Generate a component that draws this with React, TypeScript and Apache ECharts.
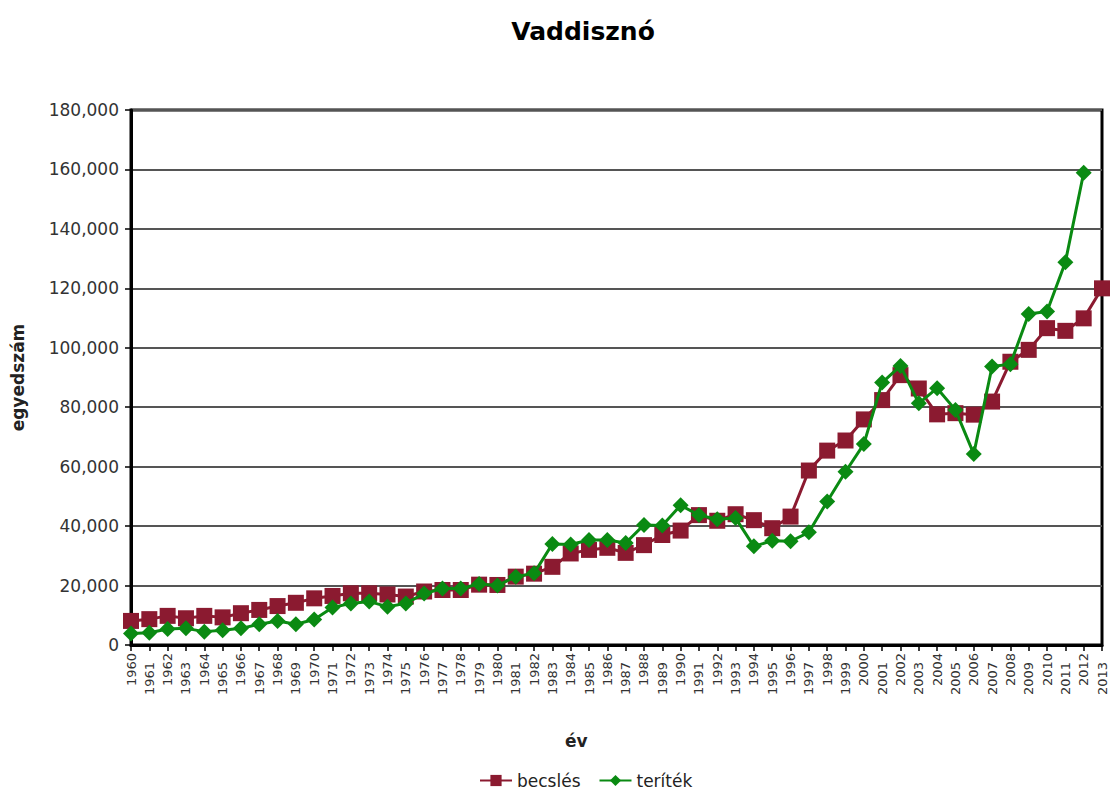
import React, { useEffect, useRef } from "react";
import * as echarts from "echarts";

const years: string[] = [];
for (let y = 1960; y <= 2013; y++) years.push(String(y));

const becsles: number[] = [
  8100, 8700, 9800, 9000, 9800, 9300, 10700, 11800, 13100, 14200,
  15700, 16500, 17400, 17400, 17000, 16300, 18000, 18500, 18500, 20300,
  20200, 23000, 24000, 26300, 30800, 32000, 32700, 31000, 33600, 37000,
  38500, 43700, 41800, 44000, 42000, 39300, 43200, 58700, 65400, 68800,
  75900, 82400, 90800, 86300, 77600, 78000, 77500, 81900, 95300, 99300,
  106600, 105700, 109900, 120000,
];

const teritek: (number | null)[] = [
  3900, 4100, 5400, 5600, 4500, 5000, 5600, 7000, 8100, 7000,
  8600, 12600, 14000, 14600, 12900, 14000, 17300, 19000, 19000, 20500,
  20000, 23000, 24100, 34000, 33800, 35300, 35300, 34300, 40400, 40200,
  47000, 43700, 42300, 42700, 33200, 35100, 34900, 37900, 48300, 58300,
  67600, 88300, 93900, 81300, 86400, 79100, 64300, 93700, 94500, 111400,
  112200, 128800, 158900, null,
];

const FONT = "'DejaVu Sans', Verdana, sans-serif";
const RED = "#8B1A30";
const GREEN = "#0A8A12";

export default function App() {
  const ref = useRef<HTMLDivElement>(null);
  useEffect(() => {
    document.body.style.margin = "0";
    const chart = echarts.init(ref.current!, null, { renderer: "svg" });
    chart.setOption({
      animation: false,
      backgroundColor: "#fff",
      textStyle: { fontFamily: FONT },
      title: {
        text: "Vaddisznó",
        left: 578,
        textAlign: "center",
        top: 14,
        textStyle: { fontFamily: FONT, fontSize: 25, fontWeight: "bold", color: "#000" },
      },
      legend: {
        bottom: 3,
        left: 474,
        itemWidth: 32,
        itemHeight: 14,
        itemGap: 18,
        textStyle: { fontFamily: FONT, fontSize: 17, color: "#222" },
        data: ["becslés", "teríték"],
      },
      graphic: [
        {
          type: "text",
          left: 565,
          top: 732,
          style: { text: "év", font: "bold 17px 'DejaVu Sans', Verdana, sans-serif", fill: "#222" },
        },
      ],
      grid: {
        left: 131,
        right: 8,
        top: 110,
        bottom: 152,
        outerBoundsMode: "none",
        containLabel: false,
        show: true,
        borderColor: "#000",
        borderWidth: 3,
      },
      xAxis: {
        type: "category",
        data: years,
        boundaryGap: false,
        axisLine: { lineStyle: { color: "#000", width: 3 } },
        axisTick: { show: true, length: 6, interval: 0, lineStyle: { color: "#000", width: 1.5 } },
        axisLabel: {
          interval: 0,
          rotate: 90,
          margin: 8,
          fontSize: 13,
          color: "#333",
          fontFamily: FONT,
          formatter: (v: string) => (Number(v) % 2 === 1 ? `{o|${v}}` : `{e|${v}}`),
          rich: {
            o: { padding: [0, 9, 0, 0], fontSize: 13, color: "#333", fontFamily: FONT },
            e: { fontSize: 13, color: "#333", fontFamily: FONT },
          },
        },
        splitLine: { show: false },
      },
      yAxis: {
        type: "value",
        min: 0,
        max: 180000,
        interval: 20000,
        name: "egyedszám",
        nameLocation: "middle",
        nameGap: 105,
        nameTextStyle: { fontFamily: FONT, fontSize: 17, fontWeight: "bold", color: "#222" },
        axisLine: { show: true, lineStyle: { color: "#000", width: 3 } },
        axisTick: { show: true, length: 6, lineStyle: { color: "#000", width: 1.5 } },
        axisLabel: {
          margin: 12,
          fontSize: 17,
          color: "#333",
          fontFamily: FONT,
          formatter: (v: number) => v.toLocaleString("en-US"),
        },
        splitLine: { show: true, lineStyle: { color: "#555", width: 2 } },
      },
      series: [
        {
          name: "becslés",
          type: "line",
          data: becsles,
          symbol: "rect",
          symbolSize: 16,
          color: RED,
          lineStyle: { color: RED, width: 3 },
          itemStyle: { color: RED },
          z: 2,
        },
        {
          name: "teríték",
          type: "line",
          data: teritek,
          symbol: "diamond",
          symbolSize: 16,
          color: GREEN,
          lineStyle: { color: GREEN, width: 3 },
          itemStyle: { color: GREEN },
          z: 3,
        },
      ],
    });
    return () => chart.dispose();
  }, []);
  return <div ref={ref} style={{ width: 1110, height: 797 }} />;
}
